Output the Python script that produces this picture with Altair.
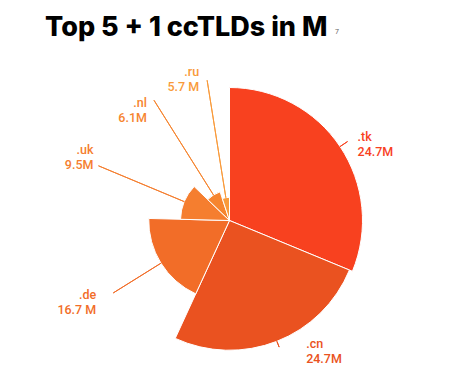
import math
import altair as alt
import pandas as pd

# ---- data ----
domains = [".tk", ".cn", ".de", ".uk", ".nl", ".ru"]
value_labels = ["24.7M", "24.7M", "16.7 M", "9.5M", "6.1M", "5.7 M"]
# slice share (angular extent, in M) estimated from the drawn slices
share = [27.3, 22.4, 16.2, 10.3, 6.8, 4.4]
# slice length (radial extent, in M) estimated from the drawn slices
reach = [24.7, 24.1, 15.0, 9.1, 5.6, 4.3]

colors = ["#F8411F", "#EA5220", "#F26D28", "#F57E2F", "#F6852F", "#F99A3A"]

# ---- layout ----
CX, CY = 221.5, 168.5          # pie centre inside the plot area
R_MAX_PX = 133                  # pixel radius of the value 24.7
lead_end_px = [142, 136, 137, 142, 142, 142]
label_nudge = {".tk": (10, -5, "left"), ".cn": (27, -3, "left"),
               ".de": (-17, 2, "right"), ".uk": (-5, -16, "right"),
               ".nl": (-7, 3, "right"), ".ru": (-8, -8, "right")}

total = sum(share)
starts, ends = [], []
acc = 0.0
for s in share:
    starts.append(acc)
    acc += s
    ends.append(acc)

df = pd.DataFrame({
    "domain": domains,
    "label": [f"{d}\n{v}" for d, v in zip(domains, value_labels)],
    "start": starts,
    "end": ends,
    "mid": [(a + b) / 2 for a, b in zip(starts, ends)],
    "r": reach,
    "lead": [p / R_MAX_PX * 24.7 for p in lead_end_px],
})

theta_scale = alt.Scale(domain=[0, total], range=[0, 2 * math.pi])
radius_scale = alt.Scale(type="linear", domain=[0, 24.7], range=[0, R_MAX_PX])
color_scale = alt.Scale(domain=domains, range=colors)

base = alt.Chart(df)

arcs = base.mark_arc(stroke="white", strokeWidth=1).encode(
    theta=alt.Theta("start:Q", scale=theta_scale),
    theta2="end:Q",
    radius=alt.Radius("r:Q", scale=radius_scale),
    color=alt.Color("domain:N", scale=color_scale, legend=None),
    x=alt.value(CX), y=alt.value(CY),
)

leaders = base.mark_arc(filled=False, strokeWidth=1).encode(
    theta=alt.Theta("mid:Q", scale=theta_scale),
    theta2="mid:Q",
    radius=alt.Radius("lead:Q", scale=radius_scale),
    radius2="r:Q",
    color=alt.Color("domain:N", scale=color_scale, legend=None),
    x=alt.value(CX), y=alt.value(CY),
)

labels = []
for d in domains:
    dx, dy, al = label_nudge[d]
    labels.append(
        base.transform_filter(alt.datum.domain == d).mark_text(
            align=al, baseline="middle", dx=dx, dy=dy, lineBreak="\n",
            lineHeight=15, font="Roboto", fontSize=12.5, fontWeight=500,
        ).encode(
            theta=alt.Theta("mid:Q", scale=theta_scale),
            radius=alt.Radius("lead:Q", scale=radius_scale),
            text="label:N",
            color=alt.Color("domain:N", scale=color_scale, legend=None),
            x=alt.value(CX), y=alt.value(CY),
        )
    )

note = alt.Chart(pd.DataFrame({"t": ["7"]})).mark_text(
    align="left", baseline="middle", fontSize=7, color="#666", font="Roboto"
).encode(text="t:N", x=alt.value(327), y=alt.value(-20))

chart = alt.layer(arcs, leaders, *labels, note).properties(
    width=440, height=314,
    padding={"top": 44, "left": 0, "right": 0, "bottom": 0},
    autosize=alt.AutoSizeParams(type="none"),
    title=alt.TitleParams(
        "Top 5 + 1 ccTLDs in M", anchor="start", dx=37, dy=22, offset=8,
        font="Inter", fontSize=27, fontWeight=800, color="#000",
    ),
).configure_view(stroke=None)

chart.save("out.html", embed_options={"renderer": "svg", "actions": False})
